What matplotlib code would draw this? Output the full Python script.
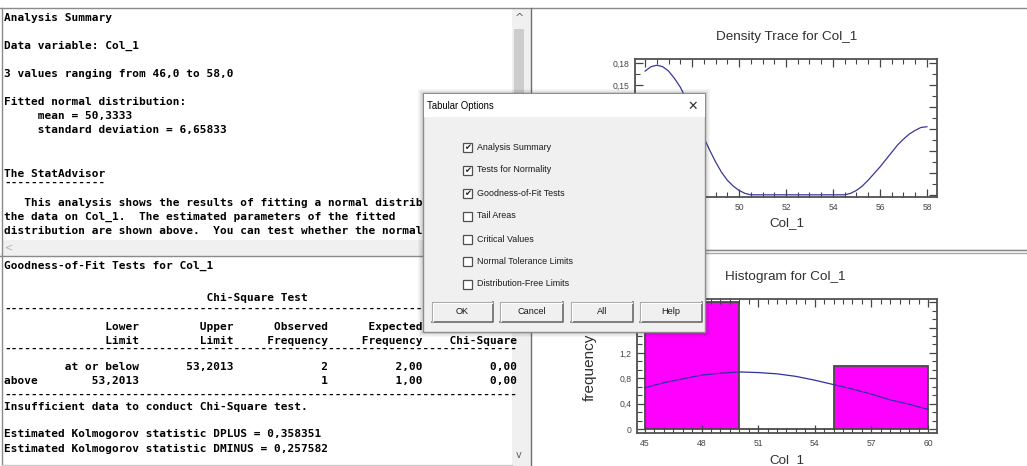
import matplotlib
matplotlib.use('Agg')
import matplotlib.pyplot as plt
from matplotlib.patches import Rectangle
from matplotlib.ticker import MultipleLocator, FuncFormatter
from matplotlib import font_manager

W, H = 1027, 466

# ---- values ----
density_x = [46.0, 46.25, 46.5, 46.75, 47.0, 47.25, 47.5, 47.75, 48.0, 48.25, 48.5, 48.75,
             49.0, 49.25, 49.5, 49.75, 50.0, 50.25, 50.5, 51.0, 52.0, 53.0, 54.0, 54.5,
             54.75, 55.0, 55.25, 55.5, 55.75, 56.0, 56.25, 56.5, 56.75, 57.0, 57.25, 57.5,
             57.75, 58.0]
density_y = [0.169, 0.175, 0.177, 0.175, 0.169, 0.159, 0.147, 0.131, 0.114, 0.096, 0.078, 0.061,
             0.045, 0.031, 0.020, 0.012, 0.006, 0.002, 0.0, 0.0, 0.0, 0.0, 0.0, 0.0,
             0.002, 0.006, 0.012, 0.020, 0.029, 0.038, 0.048, 0.058, 0.068, 0.076, 0.083, 0.088,
             0.092, 0.093]

bin_edges = [45, 50, 55, 60]
bin_counts = [2, 0, 1]
normal_x = [45, 46, 47, 48, 49, 50, 51, 52, 53, 54, 55, 56, 57, 58, 59, 60]
normal_y = [0.65, 0.73, 0.79, 0.85, 0.88, 0.90, 0.89, 0.87, 0.83, 0.77, 0.70, 0.63,
            0.55, 0.46, 0.39, 0.31]

summary_lines = [
    (17, "Analysis Summary"),
    (45, "Data variable: Col_1"),
    (73, "3 values ranging from 46,0 to 58,0"),
    (101, "Fitted normal distribution:"),
    (115, "     mean = 50,3333"),
    (129, "     standard deviation = 6,65833"),
    (173, "The StatAdvisor"),
    (202, "   This analysis shows the results of fitting a normal distribution to"),
    (216, "the data on Col_1.  The estimated parameters of the fitted"),
    (230, "distribution are shown above.  You can test whether the normal"),
]
summary_dashes = [(183, 15)]

header1 = f"{'':6}{'Lower':>14}{'Upper':>14}{'Observed':>14}{'Expected':>14}"
header2 = f"{'':6}{'Limit':>14}{'Limit':>14}{'Frequency':>14}{'Frequency':>14}{'Chi-Square':>14}"
row1 = f"{'':6}{'at or below':>14}{'53,2013':>14}{'2':>14}{'2,00':>14}{'0,00':>14}"
row2 = f"{'above':<6}{'53,2013':>14}{'':>14}{'1':>14}{'1,00':>14}{'0,00':>14}"
gof_lines = [
    (265, "Goodness-of-Fit Tests for Col_1"),
    (297, "Chi-Square Test".center(76)),
    (326, header1),
    (340, header2),
    (366, row1),
    (380, row2),
    (406, "Insufficient data to conduct Chi-Square test."),
    (433, "Estimated Kolmogorov statistic DPLUS = 0,358351"),
    (448, "Estimated Kolmogorov statistic DMINUS = 0,257582"),
]
gof_dashes = [(309, 76), (349, 76), (395, 76)]

options = ["Analysis Summary", "Tests for Normality", "Goodness-of-Fit Tests", "Tail Areas",
           "Critical Values", "Normal Tolerance Limits", "Distribution-Free Limits"]
checked = [True, True, True, False, False, False, False]
buttons = ["OK", "Cancel", "All", "Help"]


def pick_font(names):
    for n in names:
        try:
            font_manager.findfont(font_manager.FontProperties(family=n), fallback_to_default=False)
            return n, True
        except Exception:
            pass
    return 'Liberation Sans', False


NARROW, has_narrow = pick_font(['Liberation Sans Narrow'])
nscale = 1.0 if has_narrow else 0.84
plt.rcParams['font.family'] = ['Liberation Sans', 'DejaVu Sans']

fig = plt.figure(figsize=(W / 100, H / 100), dpi=100, facecolor='white')

# dialog box extent (pixels, y down)
DX0, DY0, DX1, DY1 = 423, 93, 705, 332

# background: the Statgraphics window panes
bg = fig.add_axes([0, 0, 1, 1], zorder=0)
bg.set_xlim(0, W)
bg.set_ylim(H, 0)
bg.axis('off')


def rect(ax, x0, y0, x1, y1, **kw):
    ax.add_patch(Rectangle((x0, y0), x1 - x0, y1 - y0, **kw))


rect(bg, 2, 8, 512, 240, facecolor='white', lw=0)
rect(bg, 2, 240, 512, 253, facecolor='#f0f0f0', lw=0)
rect(bg, 512, 8, 526, 253, facecolor='#f0f0f0', lw=0)
rect(bg, 514, 29, 524, 240, facecolor='#cdcdcd', lw=0)
rect(bg, 0, 253, 531, 256, facecolor='#f0f0f0', lw=0)
rect(bg, 512, 256, 526, 466, facecolor='#f0f0f0', lw=0)
rect(bg, 526, 8, 531, 466, facecolor='#f0f0f0', lw=0)
rect(bg, 531, 249, W, 252, facecolor='#f0f0f0', lw=0)
bg.plot([0, W], [7.5, 7.5], color='#8a8a8a', lw=1)
bg.plot([2, 2], [7.5, 466], color='#8a8a8a', lw=1)
bg.plot([0, 526], [255.5, 255.5], color='#8a8a8a', lw=1)
bg.plot([531, 531], [7.5, 466], color='#6e6e6e', lw=1)
bg.plot([531, W], [249.5, 249.5], color='#8a8a8a', lw=1)
bg.plot([531, W], [252.5, 252.5], color='#a8a8a8', lw=1)
bg.plot([2, 512], [465, 465], color='#c8c8c8', lw=1)
bg.text(519, 18, '^', ha='center', va='center', fontsize=8, color='#606060', family='DejaVu Sans')
bg.text(9, 247, '<', ha='center', va='center', fontsize=7, color='#b0b0b0', family='DejaVu Sans')
bg.text(519, 455, 'v', ha='center', va='center', fontsize=7, color='#606060', family='DejaVu Sans')

CW = 6.69
X0 = 4
# rows hidden behind the dialog only show the characters left of it
max_chars = int((DX0 - X0) / CW) + 1


def visible(y, s):
    if DY0 - 8 < y < DY1 + 4:
        return s[:max_chars].rstrip()
    return s


for y, s in summary_lines + gof_lines:
    bg.text(X0, y + 4, visible(y, s), family='DejaVu Sans Mono', weight='bold', fontsize=8,
            va='baseline', ha='left', color='black')
for y, n in summary_dashes + gof_dashes:
    bg.text(X0, y + 3, visible(y, '-' * n), family='DejaVu Sans Mono', weight='bold', fontsize=8,
            va='baseline', ha='left', color='black')


def comma(v, pos):
    if abs(v) < 1e-9:
        return '0'
    s = f'{v:.2f}'.rstrip('0').rstrip('.')
    return s.replace('.', ',')


def style_axes(ax):
    ax.tick_params(which='both', direction='in', top=True, right=True,
                   colors='#454545', labelcolor='#454545', labelsize=7.4 * nscale)
    ax.tick_params(which='major', length=6, width=0.9, pad=4)
    ax.tick_params(which='minor', length=3.5, width=0.8)
    for lab in ax.get_xticklabels() + ax.get_yticklabels():
        lab.set_family(NARROW)
    for sp in ax.spines.values():
        sp.set_color('#505050')
        sp.set_linewidth(1.3)
    ax.yaxis.set_major_formatter(FuncFormatter(comma))
    ax.xaxis.set_major_formatter(FuncFormatter(comma))


# density trace
ax1 = fig.add_axes([635 / W, 1 - 197 / H, 302 / W, 138 / H], zorder=1)
ax1.plot(density_x, density_y, color='#38389a', lw=0.9)
ax1.set_xlim(45.57, 58.43)
ax1.set_ylim(-0.003, 0.1855)
ax1.xaxis.set_major_locator(MultipleLocator(2))
ax1.xaxis.set_minor_locator(MultipleLocator(0.5))
ax1.yaxis.set_major_locator(MultipleLocator(0.03))
ax1.yaxis.set_minor_locator(MultipleLocator(0.015))
style_axes(ax1)
fig.text(787 / W, 1 - 37 / H, 'Density Trace for Col_1', ha='center', va='center',
         fontsize=9.7, color='#303030')
fig.text(787 / W, 1 - 223 / H, 'Col_1', ha='center', va='center', family=NARROW,
         fontsize=11.5 * nscale, color='#303030')

# histogram
ax2 = fig.add_axes([637 / W, 1 - 433 / H, 300 / W, 134 / H], zorder=1)
ax2.bar(bin_edges[:-1], bin_counts, width=5, align='edge', color='#ff00ff',
        edgecolor='#4a4a4a', lw=1.3)
ax2.plot(normal_x, normal_y, color='#3030a0', lw=0.9)
ax2.set_xlim(44.58, 60.48)
ax2.set_ylim(-0.063, 2.05)
ax2.xaxis.set_major_locator(MultipleLocator(3))
ax2.xaxis.set_minor_locator(MultipleLocator(0.5))
ax2.yaxis.set_major_locator(MultipleLocator(0.4))
ax2.yaxis.set_minor_locator(MultipleLocator(0.4 / 3))
style_axes(ax2)
fig.text(785 / W, 1 - 277 / H, 'Histogram for Col_1', ha='center', va='center',
         fontsize=9.7, color='#303030')
fig.text(787 / W, 1 - 460 / H, 'Col_1', ha='center', va='center', family=NARROW,
         fontsize=11.5 * nscale, color='#303030')
fig.text(590 / W, 1 - 367 / H, 'frequency', ha='center', va='center', rotation=90,
         fontsize=11, color='#303030')

# Tabular Options dialog on top
dlg = fig.add_axes([0, 0, 1, 1], zorder=5)
dlg.set_xlim(0, W)
dlg.set_ylim(H, 0)
dlg.axis('off')
dlg.patch.set_alpha(0)
for k in range(1, 6):
    rect(dlg, DX0 - k, DY0 - k + 1, DX1 + k, DY1 + k, facecolor='black', alpha=0.035, lw=0)
rect(dlg, DX0, DY0, DX1, DY1, facecolor='#f0f0f0', edgecolor='#8c8c8c', lw=1)
rect(dlg, DX0 + 0.5, DY0 + 0.5, DX1 - 0.5, 117, facecolor='white', lw=0)
dlg.text(427, 106, 'Tabular Options', ha='left', va='center', family=NARROW,
         fontsize=8.2 * nscale, color='black')
dlg.text(693, 106, '\u2715', ha='center', va='center', family='DejaVu Sans',
         fontsize=9, color='#303030')

row_y = [147, 170, 193, 216, 239, 261, 284]
for y, lab, on in zip(row_y, options, checked):
    rect(dlg, 463, y - 4.5, 472, y + 4.5, facecolor='white', edgecolor='#505050', lw=0.9)
    if on:
        dlg.text(467.6, y + 0.3, '\u2714', ha='center', va='center', family='DejaVu Sans',
                 fontsize=6, color='#202020')
    dlg.text(477, y, lab, ha='left', va='center', family=NARROW,
             fontsize=7.6 * nscale, color='#1a1a1a')

btn_x = [(432, 493), (500, 563), (571, 633), (640, 702)]
for (x0, x1), lab in zip(btn_x, buttons):
    rect(dlg, x0, 302, x1, 322, facecolor='#f0f0f0', lw=0)
    dlg.plot([x0, x1, x1], [322, 322, 302], color='#696969', lw=1.2)
    dlg.plot([x0, x0, x1], [322, 302, 302], color='#a8a8a8', lw=0.8)
    dlg.plot([x0 + 1, x0 + 1, x1 - 1], [321, 303, 303], color='white', lw=0.8)
    dlg.text((x0 + x1) / 2, 312, lab, ha='center', va='center', family=NARROW,
             fontsize=7.8 * nscale, color='#1a1a1a')

fig.savefig('out.png', dpi=100, facecolor='white')
